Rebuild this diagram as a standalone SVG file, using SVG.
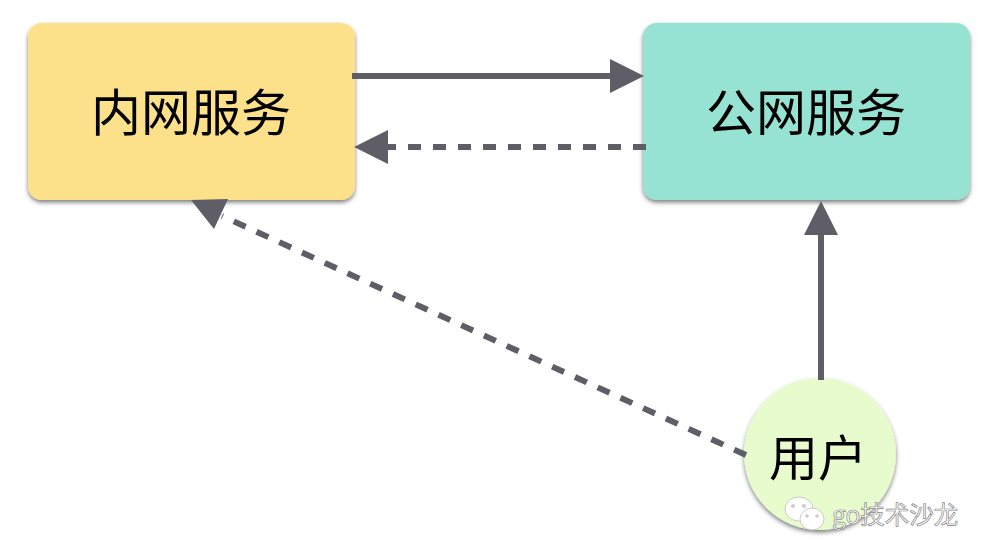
<svg xmlns="http://www.w3.org/2000/svg" width="988" height="560" viewBox="0 0 988 560">
<style>
.lbl{font-family:"Noto Sans CJK SC","Noto Sans CJK JP",sans-serif;fill:#000;text-anchor:middle}
.line{fill:none;stroke:#5f5e66;stroke-width:6}
.dash{stroke-dasharray:13 12}
.head{fill:#5f5e66}
.box{filter:url(#sh)}
.wm{fill:#fff;stroke:#aaa;stroke-width:.6}
</style>
<defs>
<filter id="sh" x="-10%" y="-10%" width="120%" height="125%"><feDropShadow dx="0" dy="2.5" stdDeviation="2" flood-color="#000" flood-opacity=".5"/></filter>
</defs>
<rect width="988" height="560" fill="#fff"/>
<g id="node-intranet"><rect class="box" x="28" y="23" width="327" height="177" rx="14" fill="#fce18a"/><text class="lbl" x="191" y="131" font-size="50">内网服务</text></g>
<g id="node-public"><rect class="box" x="643" y="23" width="327" height="177" rx="14" fill="#96e2d3"/><text class="lbl" x="806" y="131" font-size="50">公网服务</text></g>
<g id="node-user"><circle class="box" cx="820" cy="454" r="76" fill="#e7fbcc"/><text class="lbl" x="818" y="476" font-size="49">用户</text></g>
<g id="connectors">
<path class="line" d="M352 76H612"/><polygon class="head" points="644,76 610,59 610,93"/>
<path class="line dash" d="M646 147H386"/><polygon class="head" points="354,147 388,130 388,164"/>
<path class="line dash" d="M746 455L222 216"/><polygon class="head" points="191,200 228,199 214,229"/>
<path class="line" d="M821 380V233"/><polygon class="head" points="821,201 804,235 838,235"/>
</g>
<g id="watermark">
<ellipse class="wm" cx="799" cy="509" rx="14" ry="12"/><circle cx="793" cy="506" r="2" fill="#ccc"/><circle cx="804" cy="506" r="2" fill="#ccc"/>
<ellipse class="wm" cx="812" cy="519" rx="12" ry="11"/><circle cx="807" cy="516" r="1.8" fill="#ccc"/><circle cx="817" cy="516" r="1.8" fill="#ccc"/>
<text x="832" y="524" font-size="24.5" font-family="'Noto Sans CJK SC',sans-serif" fill="#fff" stroke="#888" stroke-width=".7">go技术沙龙</text>
</g>
</svg>
